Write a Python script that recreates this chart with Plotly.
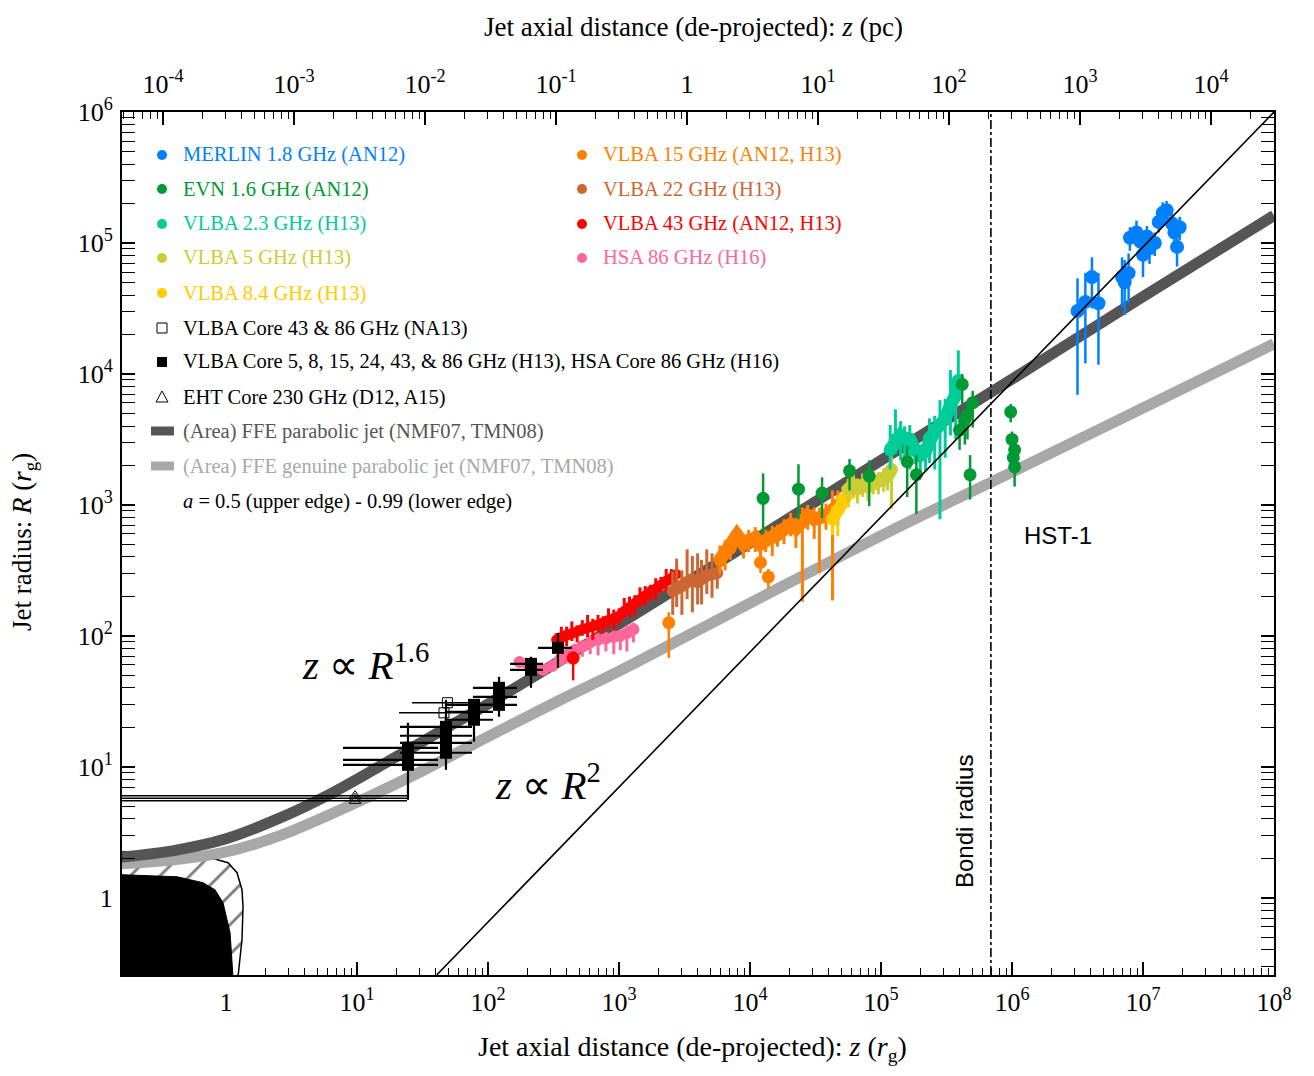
import numpy as np
import plotly.graph_objects as go

# ---------------- data: log10 values (z, R in r_g) ----------------
# MERLIN 1.8 GHz (AN12)
merlin_lz = [6.50, 6.56, 6.61, 6.66, 6.84, 6.86, 6.89, 6.90, 6.95, 6.98, 7.00, 7.03, 7.05, 7.09, 7.12, 7.15, 7.18, 7.22, 7.24, 7.28, 7.26]
merlin_lR = [4.48, 4.55, 4.74, 4.54, 4.74, 4.70, 4.77, 5.04, 5.08, 5.01, 4.91, 5.05, 4.96, 5.00, 5.16, 5.23, 5.25, 5.15, 5.08, 5.12, 4.97]
merlin_up = [0.25, 0.22, 0.15, 0.23, 0.15, 0.17, 0.15, 0.08, 0.09, 0.07, 0.08, 0.08, 0.07, 0.08, 0.07, 0.08, 0.07, 0.08, 0.07, 0.08, 0.06]
merlin_dn = [0.64, 0.47, 0.24, 0.47, 0.23, 0.25, 0.23, 0.10, 0.09, 0.10, 0.17, 0.10, 0.12, 0.10, 0.08, 0.09, 0.08, 0.10, 0.09, 0.10, 0.15]

# EVN 1.6 GHz (AN12)
evn_lz = [4.10, 4.37, 4.55, 4.76, 4.91, 5.20, 5.27, 5.62, 5.70, 5.64, 5.60, 5.66, 5.68, 5.99, 6.00, 6.02, 6.01, 6.02]
evn_lR = [3.05, 3.12, 3.09, 3.26, 3.22, 3.33, 3.23, 3.92, 3.78, 3.65, 3.57, 3.69, 3.23, 3.71, 3.50, 3.42, 3.36, 3.29]
evn_up = [0.19, 0.19, 0.12, 0.09, 0.12, 0.12, 0.15, 0.08, 0.09, 0.08, 0.08, 0.08, 0.15, 0.06, 0.06, 0.08, 0.06, 0.06]
evn_dn = [0.27, 0.23, 0.19, 0.15, 0.23, 0.27, 0.30, 0.15, 0.19, 0.19, 0.15, 0.19, 0.19, 0.08, 0.11, 0.11, 0.11, 0.15]

# VLBA 2.3 GHz (H13)
v23_lz = [5.07, 5.11, 5.15, 5.18, 5.22, 5.26, 5.30, 5.34, 5.37, 5.41, 5.45, 5.49, 5.53, 5.57, 5.59]
v23_lR = [3.42, 3.50, 3.53, 3.51, 3.50, 3.42, 3.38, 3.41, 3.51, 3.57, 3.61, 3.66, 3.76, 3.84, 3.95]
v23_up = [0.19, 0.23, 0.11, 0.09, 0.11, 0.09, 0.08, 0.11, 0.15, 0.11, 0.19, 0.15, 0.27, 0.11, 0.23]
v23_dn = [0.15, 0.11, 0.19, 0.15, 0.23, 0.11, 0.15, 0.15, 0.19, 0.30, 0.72, 0.30, 0.23, 0.34, 0.15]

# VLBA 5 GHz (H13)
v5_lz = [4.75, 4.79, 4.82, 4.86, 4.90, 4.94, 4.98, 5.02, 5.05, 5.08]
v5_lR = [3.12, 3.15, 3.13, 3.15, 3.14, 3.16, 3.18, 3.19, 3.22, 3.27]
v5_up = [0.08, 0.10, 0.07, 0.09, 0.08, 0.10, 0.07, 0.09, 0.08, 0.10]
v5_dn = [0.10, 0.08, 0.12, 0.09, 0.11, 0.08, 0.10, 0.09, 0.11, 0.30]

# VLBA 8.4 GHz (H13)
v8_lz = [4.63, 4.67, 4.71, 4.75, 4.79, 4.82]
v8_lR = [2.89, 2.96, 3.04, 3.10, 3.15, 3.12]
v8_up = [0.10, 0.09, 0.10, 0.08, 0.09, 0.08]
v8_dn = [0.12, 0.20, 0.10, 0.12, 0.10, 0.09]

# VLBA 15 GHz (AN12, H13)
v15_lz = [3.77, 3.81, 3.85, 3.90, 3.95, 3.99, 4.04, 4.08, 4.12, 4.17, 4.21, 4.26, 4.31, 4.35, 4.40, 4.44, 4.49, 4.53, 4.58, 4.63, 4.67]
v15_lR = [2.58, 2.64, 2.67, 2.77, 2.70, 2.73, 2.75, 2.70, 2.73, 2.75, 2.77, 2.81, 2.85, 2.82, 2.87, 2.92, 2.89, 2.90, 2.92, 2.96, 3.00]
v15_up = [0.11, 0.09, 0.08, 0.06, 0.08, 0.08, 0.08, 0.06, 0.08, 0.09, 0.08, 0.08, 0.09, 0.08, 0.11, 0.08, 0.09, 0.08, 0.09, 0.15, 0.11]
v15_dn = [0.11, 0.14, 0.09, 0.08, 0.11, 0.09, 0.11, 0.15, 0.09, 0.14, 0.09, 0.11, 0.09, 0.15, 0.61, 0.11, 0.15, 0.42, 0.11, 0.69, 0.15]
v15_out_lz = [3.38, 4.14, 4.08]
v15_out_lR = [2.10, 2.45, 2.56]
v15_out_up = [0.08, 0.06, 0.05]
v15_out_dn = [0.27, 0.09, 0.08]

# VLBA 22 GHz (H13)
v22_lz = [3.41, 3.44, 3.48, 3.52, 3.56, 3.60, 3.63, 3.67, 3.71, 3.75]
v22_lR = [2.34, 2.37, 2.38, 2.41, 2.43, 2.41, 2.44, 2.46, 2.47, 2.48]
v22_up = [0.15, 0.22, 0.12, 0.25, 0.18, 0.22, 0.14, 0.20, 0.16, 0.12]
v22_dn = [0.18, 0.15, 0.22, 0.13, 0.25, 0.17, 0.20, 0.14, 0.18, 0.12]

# VLBA 43 GHz (AN12, H13)
v43_lz = [2.52, 2.56, 2.60, 2.64, 2.68, 2.72, 2.76, 2.80, 2.84, 2.88, 2.92, 2.96, 3.00, 3.04, 3.08, 3.12, 3.16, 3.20, 3.24, 3.28, 3.32, 3.36, 3.40, 3.44]
v43_lR = [1.97, 1.99, 2.01, 2.02, 2.03, 2.05, 2.06, 2.07, 2.08, 2.10, 2.12, 2.13, 2.15, 2.19, 2.22, 2.25, 2.28, 2.31, 2.34, 2.36, 2.39, 2.42, 2.44, 2.47]
v43_up = [0.05, 0.08, 0.06, 0.09, 0.05, 0.07, 0.10, 0.06, 0.08, 0.05, 0.09, 0.07, 0.06, 0.10, 0.08, 0.06, 0.09, 0.07, 0.05, 0.08, 0.06, 0.09, 0.07, 0.05]
v43_dn = [0.07, 0.05, 0.09, 0.06, 0.08, 0.05, 0.07, 0.10, 0.06, 0.08, 0.06, 0.09, 0.07, 0.05, 0.08, 0.10, 0.06, 0.08, 0.07, 0.09, 0.06, 0.08, 0.05, 0.07]
v43_out_lz = [2.65]
v43_out_lR = [1.83]
v43_out_up = [0.05]
v43_out_dn = [0.17]

# HSA 86 GHz (H16)
hsa_lz = [2.24, 2.34, 2.42, 2.49, 2.55, 2.60, 2.66, 2.72, 2.78, 2.84, 2.90, 2.96, 3.01, 3.06, 3.11]
hsa_lR = [1.80, 1.76, 1.74, 1.77, 1.82, 1.85, 1.89, 1.92, 1.95, 1.97, 1.98, 1.99, 2.00, 2.02, 2.05]
hsa_up = [0.03, 0.03, 0.03, 0.04, 0.04, 0.05, 0.05, 0.04, 0.05, 0.06, 0.05, 0.06, 0.05, 0.06, 0.05]
hsa_dn = [0.03, 0.03, 0.04, 0.04, 0.05, 0.06, 0.07, 0.08, 0.09, 0.12, 0.10, 0.13, 0.11, 0.14, 0.10]

# VLBA Core 5-86 GHz (H13), HSA core 86 GHz (H16): filled squares
core_lz = [1.389, 1.389, 1.389, 1.679, 1.679, 1.679, 1.679, 1.893, 1.893, 1.893, 2.084, 2.084, 2.084, 2.328, 2.328, 2.534]
core_lR = [1.015, 1.053, 1.145, 1.107, 1.183, 1.237, 1.305, 1.359, 1.420, 1.473, 1.473, 1.534, 1.603, 1.740, 1.786, 1.908]
core_lz_lo = [0.893, 0.893, 0.893, 1.328, 1.328, 1.328, 1.328, 1.672, 1.672, 1.672, 1.885, 1.885, 1.885, 2.168, 2.168, 2.382]
core_lz_hi = [1.618, 1.618, 1.618, 1.878, 1.878, 1.878, 1.878, 2.038, 2.038, 2.038, 2.221, 2.221, 2.221, 2.420, 2.420, 2.641]
core_lR_lo = [0.748, 1.000, 1.100, 0.977, 1.120, 1.180, 1.250, 1.191, 1.360, 1.410, 1.382, 1.470, 1.540, 1.603, 1.720, 1.756]
core_lR_hi = [1.336, 1.100, 1.190, 1.511, 1.240, 1.300, 1.370, 1.420, 1.480, 1.511, 1.530, 1.600, 1.687, 1.800, 1.840, 2.023]

# VLBA Core 43 & 86 GHz (NA13): open squares
na13_lz = [1.664, 1.690]
na13_lR = [1.412, 1.489]
na13_lz_lo = [1.321, 1.420]
na13_lz_hi = [1.900, 1.880]

# EHT Core 230 GHz (D12, A15): open triangles
eht_lz = [0.985, 0.985, 0.985]
eht_lR = [0.779, 0.760, 0.740]
eht_lz_lo = [-0.80, -0.80, -0.80]
eht_lz_hi = [1.382, 1.382, 1.382]

# FFE parabolic jet (dark band) and genuine parabolic jet (light band)
ffe_lz = [-0.80, -0.40, 0.00, 0.39, 0.79, 1.20, 1.60, 2.00, 2.50, 3.00, 4.00, 5.00, 6.00, 7.00, 8.00]
ffe_lR = [0.31, 0.36, 0.45, 0.60, 0.79, 1.02, 1.25, 1.48, 1.78, 2.09, 2.71, 3.34, 3.96, 4.59, 5.21]
gen_lz = [-0.80, -0.40, 0.00, 0.40, 1.00, 1.50, 2.00, 2.55, 3.00, 4.00, 5.07, 6.00, 7.00, 8.00]
gen_lR = [0.26, 0.29, 0.35, 0.47, 0.73, 0.97, 1.23, 1.51, 1.73, 2.25, 2.80, 3.25, 3.74, 4.23]

# conical reference line, Bondi radius
cone_z = [40.7, 1.0e8]
cone_R = [0.258, 1.0e6]
bondi_radius = 6.9e5
pc_in_rg = 10 ** 3.519

# black-hole horizon / ergosphere outlines (log10)
ergo_lz = [-0.80, -0.43, -0.12, 0.015, 0.084, 0.122, 0.130, 0.122, 0.092, -0.80]
ergo_lR = [0.351, 0.344, 0.305, 0.267, 0.191, 0.061, -0.069, -0.32, -0.60, -0.60]
hor_lz = [-0.80, -0.374, -0.176, -0.084, -0.023, 0.031, 0.053, -0.80]
hor_lR = [0.176, 0.160, 0.115, 0.061, -0.038, -0.267, -0.60, -0.60]

# ---------------- figure ----------------
SERIF = "Liberation Serif"
SANS = "Liberation Sans"
fig = go.Figure()

def P(a):
    return 10 ** np.asarray(a, dtype=float)

def yerr(lR, up, dn):
    R = P(lR)
    return R * (10 ** np.asarray(up) - 1), R * (1 - 10 ** (-np.asarray(dn)))

# horizon shapes
fig.add_trace(go.Scatter(x=P(ergo_lz), y=P(ergo_lR), mode="lines", fill="toself",
                         fillcolor="white", line=dict(color="black", width=1.5),
                         fillpattern=dict(shape="/", fgcolor="black", bgcolor="white", size=21, solidity=0.14),
                         hoverinfo="skip", showlegend=False))
fig.add_trace(go.Scatter(x=P(hor_lz), y=P(hor_lR), mode="lines", fill="toself",
                         fillcolor="black", line=dict(color="black", width=1),
                         hoverinfo="skip", showlegend=False))

# model bands
fig.add_trace(go.Scatter(x=P(gen_lz), y=P(gen_lR), mode="lines", line=dict(color="#A8A8A8", width=11, shape="spline"),
                         hoverinfo="skip", showlegend=False))
fig.add_trace(go.Scatter(x=P(ffe_lz), y=P(ffe_lR), mode="lines", line=dict(color="#555555", width=11, shape="spline"),
                         hoverinfo="skip", showlegend=False))

def series(lz, lR, up, dn, color, size=9, lw=0, thick=2.5):
    p, m = yerr(lR, up, dn)
    fig.add_trace(go.Scatter(
        x=P(lz), y=P(lR), mode="lines+markers" if lw else "markers",
        line=dict(color=color, width=lw) if lw else None,
        marker=dict(color=color, size=size, line=dict(width=0)),
        error_y=dict(type="data", symmetric=False, array=p, arrayminus=m, color=color, thickness=thick, width=0),
        hoverinfo="skip", showlegend=False))

series(hsa_lz, hsa_lR, hsa_up, hsa_dn, "#FF6699", size=12, lw=9, thick=3)
series(v43_lz, v43_lR, v43_up, v43_dn, "#FF0000", size=10, lw=10, thick=3)
series(v43_out_lz, v43_out_lR, v43_out_up, v43_out_dn, "#FF0000", size=13)
series(v22_lz, v22_lR, v22_up, v22_dn, "#CC6633", size=12, lw=12, thick=3)
series(v15_lz, v15_lR, v15_up, v15_dn, "#FF8000", size=13, lw=13, thick=3)
series(v15_out_lz, v15_out_lR, v15_out_up, v15_out_dn, "#FF8000", size=13)
series(v8_lz, v8_lR, v8_up, v8_dn, "#FFCC00", size=13, lw=12, thick=3)
series(v5_lz, v5_lR, v5_up, v5_dn, "#CCCC33", size=13, lw=13, thick=3)
series(v23_lz, v23_lR, v23_up, v23_dn, "#00CC99", size=13, lw=13, thick=3)
series(evn_lz, evn_lR, evn_up, evn_dn, "#009933", size=13)
series(merlin_lz, merlin_lR, merlin_up, merlin_dn, "#0080FF", size=14)

# cores
cz, cR = P(core_lz), P(core_lR)
fig.add_trace(go.Scatter(
    x=cz, y=cR, mode="markers", marker=dict(symbol="square", color="black", size=12),
    error_x=dict(type="data", symmetric=False, array=P(core_lz_hi) - cz, arrayminus=cz - P(core_lz_lo),
                 color="black", thickness=2.2, width=0),
    error_y=dict(type="data", symmetric=False, array=P(core_lR_hi) - cR, arrayminus=cR - P(core_lR_lo),
                 color="black", thickness=2.2, width=0),
    hoverinfo="skip", showlegend=False))
nz, nR = P(na13_lz), P(na13_lR)
fig.add_trace(go.Scatter(
    x=nz, y=nR, mode="markers", marker=dict(symbol="square-open", color="black", size=10, line=dict(width=1)),
    error_x=dict(type="data", symmetric=False, array=P(na13_lz_hi) - nz, arrayminus=nz - P(na13_lz_lo),
                 color="black", thickness=1.5, width=0),
    hoverinfo="skip", showlegend=False))
ez, eR = P(eht_lz), P(eht_lR)
fig.add_trace(go.Scatter(
    x=ez, y=eR, mode="markers", marker=dict(symbol="triangle-up-open", color="black", size=10, line=dict(width=1)),
    error_x=dict(type="data", symmetric=False, array=P(eht_lz_hi) - ez, arrayminus=ez - P(eht_lz_lo),
                 color="black", thickness=1.5, width=0),
    hoverinfo="skip", showlegend=False))

# conical line
fig.add_trace(go.Scatter(x=cone_z, y=cone_R, mode="lines", line=dict(color="black", width=1.6),
                         hoverinfo="skip", showlegend=False))
# dummy for top axis
fig.add_trace(go.Scatter(x=[1], y=[1], xaxis="x2", mode="markers", marker=dict(opacity=0),
                         hoverinfo="skip", showlegend=False))

# ---------------- axes ----------------
def sup(e):
    return "1" if e == 0 else f"10<sup>{e}</sup>"

def minors(e0, e1):
    return [k * 10.0 ** e for e in range(e0, e1) for k in range(2, 10)]

tickfont = dict(family=SERIF, size=26, color="black")
common = dict(type="log", showgrid=False, zeroline=False, ticks="inside", ticklen=13, tickwidth=1.5,
              tickcolor="black", tickfont=tickfont)

fig.update_layout(
    width=1298, height=1060,
    margin=dict(l=114, r=32, t=104, b=93),
    plot_bgcolor="white", paper_bgcolor="white",
    xaxis=dict(**common, range=[-0.794, 8.0], ticklabelstandoff=3,
               tickmode="array", tickvals=[10.0 ** e for e in range(0, 9)], ticktext=[sup(e) for e in range(0, 9)],
               minor=dict(tickmode="array", tickvals=minors(-1, 8), ticks="inside", ticklen=7, tickwidth=1.2, tickcolor="black"),
               showline=True, linecolor="black", linewidth=2, mirror=True),
    xaxis2=dict(**common, range=[-0.794 - 3.519, 8.0 - 3.519], overlaying="x", side="top", anchor="y",
                ticklabelstandoff=13,
                tickmode="array", tickvals=[10.0 ** e for e in range(-4, 5)], ticktext=[sup(e) for e in range(-4, 5)],
                minor=dict(tickmode="array", tickvals=minors(-5, 5), ticks="inside", ticklen=7, tickwidth=1.2, tickcolor="black"),
                showline=False),
    yaxis=dict(**common, range=[-0.59, 6.0], ticklabelstandoff=2,
               tickmode="array", tickvals=[10.0 ** e for e in range(0, 7)], ticktext=[sup(e) for e in range(0, 7)],
               minor=dict(tickmode="array", tickvals=minors(-1, 6), ticks="inside", ticklen=7, tickwidth=1.2, tickcolor="black"),
               showline=True, linecolor="black", linewidth=2, mirror="allticks"),
)

# ---------------- annotations & legend ----------------
W, H = 1152.0, 863.0
def px(x):
    return (x - 122) / W
def py(y):
    return (975 - y) / H

ann = []
ann.append(dict(x=px(692), y=py(1048), text="Jet axial distance (de-projected): <i>z</i> (<i>r</i><sub>g</sub>)",
                borderpad=0, font=dict(family=SERIF, size=28, color="black")))
ann.append(dict(x=px(693), y=py(27), text="Jet axial distance (de-projected): <i>z</i> (pc)",
                borderpad=0, font=dict(family=SERIF, size=27, color="black")))
ann.append(dict(x=px(24), y=py(542), text="Jet radius: <i>R</i> (<i>r</i><sub>g</sub>)", textangle=-90,
                font=dict(family=SERIF, size=27, color="black")))
ann.append(dict(x=px(365), y=py(662), text="<i>z</i> \u221d <i>R</i><sup>1.6</sup>",
                font=dict(family=SERIF, size=41, color="black")))
ann.append(dict(x=px(548), y=py(782), text="<i>z</i> \u221d <i>R</i><sup>2</sup>",
                font=dict(family=SERIF, size=41, color="black")))
ann.append(dict(x=px(1058), y=py(535), text="HST-1", font=dict(family=SANS, size=24, color="black")))
ann.append(dict(x=px(964), y=py(822), text="Bondi radius", textangle=-90, font=dict(family=SANS, size=24, color="black")))

shapes = [dict(type="line", xref="x", yref="paper", x0=bondi_radius, x1=bondi_radius, y0=0, y1=1,
               line=dict(color="black", width=1.6, dash="dashdot"))]

legend_items = [
    (162, 155, "dot", "#0080FF", "MERLIN 1.8 GHz (AN12)", "#0080FF"),
    (162, 189, "dot", "#009933", "EVN 1.6 GHz (AN12)", "#009933"),
    (162, 224, "dot", "#00CC99", "VLBA 2.3 GHz (H13)", "#00CC99"),
    (162, 258, "dot", "#CCCC33", "VLBA 5 GHz (H13)", "#CCCC33"),
    (162, 293, "dot", "#FFCC00", "VLBA 8.4 GHz (H13)", "#FFCC00"),
    (162, 328, "osq", "black", "VLBA Core 43 &amp; 86 GHz (NA13)", "black"),
    (162, 362, "sq", "black", "VLBA Core 5, 8, 15, 24, 43, &amp; 86 GHz (H13), HSA Core 86 GHz (H16)", "black"),
    (162, 397, "tri", "black", "EHT Core 230 GHz (D12, A15)", "black"),
    (162, 431, "bar", "#555555", "(Area) FFE parabolic jet (NMF07, TMN08)", "#555555"),
    (162, 466, "bar", "#A8A8A8", "(Area) FFE genuine parabolic jet (NMF07, TMN08)", "#A8A8A8"),
    (162, 501, None, None, "<i>a</i> = 0.5 (upper edge) - 0.99 (lower edge)", "black"),
    (582, 155, "dot", "#FF8000", "VLBA 15 GHz (AN12, H13)", "#FF8000"),
    (582, 189, "dot", "#CC6633", "VLBA 22 GHz (H13)", "#CC6633"),
    (582, 224, "dot", "#FF0000", "VLBA 43 GHz (AN12, H13)", "#FF0000"),
    (582, 258, "dot", "#FF6699", "HSA 86 GHz (H16)", "#FF6699"),
]
for mx, my, kind, col, text, tcol in legend_items:
    base = dict(xref="paper", yref="paper", xsizemode="pixel", ysizemode="pixel", xanchor=px(mx), yanchor=py(my))
    if kind == "dot":
        shapes.append(dict(type="circle", x0=-5, x1=5, y0=-5, y1=5, fillcolor=col, line=dict(width=0), **base))
    elif kind == "sq":
        shapes.append(dict(type="rect", x0=-5, x1=5, y0=-5, y1=5, fillcolor="black", line=dict(width=0), **base))
    elif kind == "osq":
        shapes.append(dict(type="rect", x0=-5, x1=5, y0=-5, y1=5, fillcolor="white", line=dict(color="black", width=1), **base))
    elif kind == "tri":
        shapes.append(dict(type="path", path="M -6,-5 L 6,-5 L 0,6 Z", fillcolor="white", line=dict(color="black", width=1), **base))
    elif kind == "bar":
        shapes.append(dict(type="rect", x0=-11, x1=12, y0=-4.5, y1=4.5, fillcolor=col, line=dict(width=0), **base))
    ann.append(dict(x=px(mx + 19), y=py(my), xanchor="left", yanchor="middle", text=text,
                    font=dict(family=SERIF, size=20.5, color=tcol)))

for a in ann:
    a.setdefault("xref", "paper")
    a.setdefault("yref", "paper")
    a.setdefault("xanchor", "center")
    a.setdefault("yanchor", "middle")
    a.setdefault("showarrow", False)
fig.update_layout(annotations=ann, shapes=shapes)

fig.write_html("out.html")
